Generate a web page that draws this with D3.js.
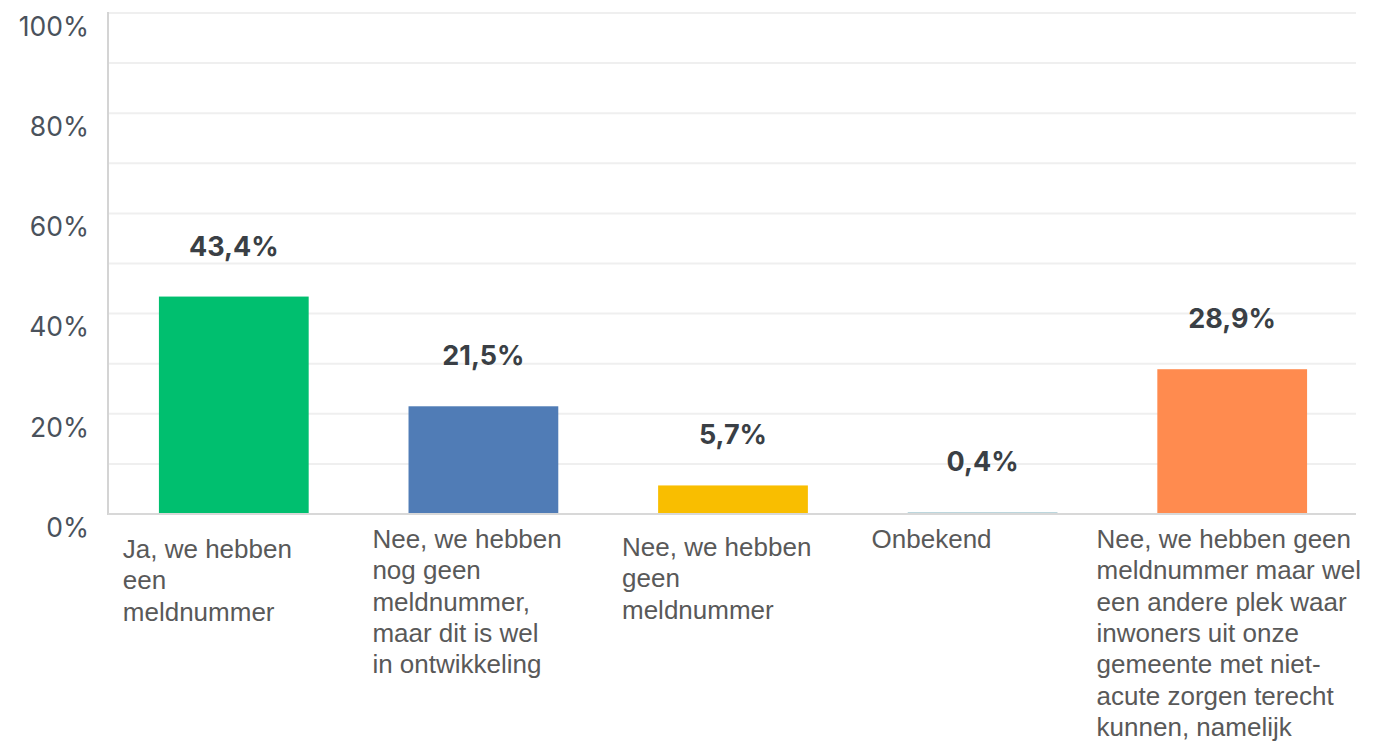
<!DOCTYPE html>
<html><head><meta charset="utf-8">
<script src="https://cdn.jsdelivr.net/npm/d3@7"></script>
<style>html,body{margin:0;padding:0;background:#fff;}svg{display:block;}</style>
</head><body>
<svg id="chart" width="1373" height="743"></svg>
<script>
const categories = [
  ["Ja, we hebben", "een", "meldnummer"],
  ["Nee, we hebben", "nog geen", "meldnummer,", "maar dit is wel", "in ontwikkeling"],
  ["Nee, we hebben", "geen", "meldnummer"],
  ["Onbekend"],
  ["Nee, we hebben geen", "meldnummer maar wel", "een andere plek waar", "inwoners uit onze", "gemeente met niet-", "acute zorgen terecht", "kunnen, namelijk"]
];
const values = [43.4, 21.5, 5.7, 0.4, 28.9];
const valueLabels = ["43,4%", "21,5%", "5,7%", "0,4%", "28,9%"];
const colors = ["#00bf6f", "#507cb6", "#f9be00", "#bcd6dd", "#ff8b4f"];
const yTicks = [0, 20, 40, 60, 80, 100];
const gridTicks = [10, 20, 30, 40, 50, 60, 70, 80, 90, 100];

(function () {
const svg = d3.select("#chart");
const W = 1373;
const mLeft = 108, mRight = 1356, mTop = 13, mBottom = 514;
// first-line baselines of the category labels (layout only)
const labelBase = [558, 548, 556, 548, 548];

const x = d3.scaleBand().domain(d3.range(values.length)).range([mLeft + 1, mRight + 1]).paddingInner(0.4).paddingOuter(0.2);
const y = d3.scaleLinear().domain([0, 100]).range([mBottom, mTop]);

// gridlines
svg.append("g").selectAll("line").data(gridTicks).join("line")
  .attr("x1", mLeft).attr("x2", mRight)
  .attr("y1", d => y(d)).attr("y2", d => y(d))
  .attr("stroke", "#efefef").attr("stroke-width", 2);

// y axis labels
const yAxis = d3.axisLeft(y).tickValues(yTicks).tickFormat(d => d + "%").tickSize(0).tickPadding(0);
const ya = svg.append("g").attr("transform", `translate(${mLeft - 19},13)`).call(yAxis);
ya.select(".domain").remove();
ya.selectAll("text").attr("font-family", "Inter, Lato, sans-serif").attr("font-size", 26.5)
  .attr("fill", "#4a525c").attr("dy", "0.35em");

// axis lines
svg.append("line").attr("x1", mLeft).attr("x2", mLeft).attr("y1", mTop - 1).attr("y2", mBottom + 1)
  .attr("stroke", "#d4d4d4").attr("stroke-width", 2);
svg.append("line").attr("x1", mLeft).attr("x2", mRight).attr("y1", mBottom).attr("y2", mBottom)
  .attr("stroke", "#d8d8d8").attr("stroke-width", 2);

// bars
svg.append("g").selectAll("rect").data(values).join("rect")
  .attr("x", (d, i) => x(i)).attr("width", x.bandwidth())
  .attr("y", d => y(d)).attr("height", d => Math.max(1, mBottom - 1 - y(d)))
  .attr("fill", (d, i) => colors[i]);

// value labels
svg.append("g").selectAll("text").data(values).join("text")
  .attr("x", (d, i) => x(i) + x.bandwidth() / 2)
  .attr("y", d => y(d) - 41)
  .attr("text-anchor", "middle")
  .attr("font-family", "Inter, Lato, sans-serif").attr("font-weight", "bold")
  .attr("font-size", 27).attr("fill", "#3a3f45")
  .text((d, i) => valueLabels[i]);

// category labels
const catG = svg.append("g");
categories.forEach((lines, i) => {
  const cx = x(i) + x.bandwidth() / 2;
  const t = catG.append("text")
    .attr("font-family", "'Liberation Sans', Arial, sans-serif").attr("font-size", 26)
    .attr("fill", "#595959");
  lines.forEach((ln, j) => {
    t.append("tspan").attr("y", labelBase[i] + j * 31.3).attr("x", 0).text(ln);
  });
  const w = t.node().getBBox().width;
  const lx = Math.min(cx - 111, W - 12 - w);
  t.selectAll("tspan").attr("x", lx);
});
})();
</script>
</body></html>
